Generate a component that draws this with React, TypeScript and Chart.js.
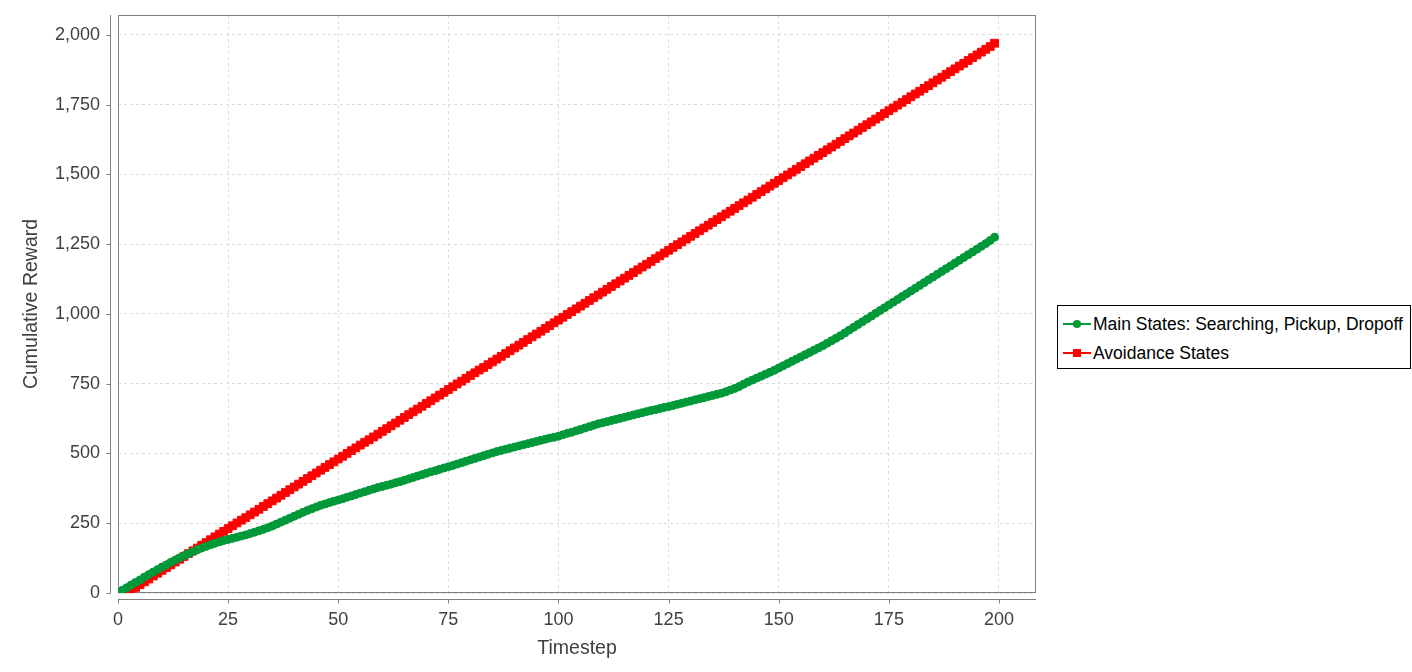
import React, { useEffect, useRef } from "react";
import { Chart, registerables } from "chart.js";

Chart.register(...registerables);

// ---- Data ----
const seriesMainLabel = "Main States: Searching, Pickup, Dropoff";
const seriesAvoidLabel = "Avoidance States";

// cumulative reward per timestep, t = 0..199
const mainStates: number[] = [
  0, 10, 19, 29, 38, 47, 57, 66, 75, 84,
  93, 101, 110, 118, 126, 134, 141, 148, 155, 161,
  167, 173, 178, 183, 188, 192, 196, 200, 204, 208,
  213, 218, 223, 228, 234, 240, 247, 254, 261, 268,
  275, 282, 289, 296, 302, 308, 314, 319, 324, 329,
  333, 338, 343, 348, 353, 358, 363, 368, 373, 378,
  382, 386, 390, 395, 399, 404, 409, 414, 419, 424,
  429, 434, 438, 443, 448, 452, 457, 462, 467, 472,
  477, 482, 487, 492, 497, 502, 507, 511, 515, 519,
  523, 527, 531, 535, 539, 543, 547, 551, 555, 558,
  562, 567, 572, 576, 581, 586, 591, 596, 601, 606,
  610, 614, 618, 622, 626, 630, 634, 638, 642, 646,
  650, 654, 657, 661, 665, 668, 672, 676, 680, 684,
  688, 692, 696, 700, 704, 708, 712, 716, 721, 727,
  733, 740, 748, 756, 763, 770, 777, 784, 791, 798,
  806, 814, 822, 830, 838, 846, 854, 862, 870, 878,
  886, 895, 904, 913, 922, 932, 942, 952, 962, 972,
  982, 992, 1002, 1012, 1022, 1032, 1042, 1052, 1062, 1072,
  1082, 1092, 1102, 1112, 1122, 1132, 1142, 1152, 1162, 1172,
  1182, 1192, 1202, 1212, 1222, 1232, 1242, 1252, 1263, 1275,
];

const avoidanceStates: number[] = [
  0, 0, 0, 10, 20, 30, 40, 50, 61, 71,
  81, 91, 101, 111, 121, 131, 141, 151, 161, 171,
  181, 191, 201, 211, 221, 231, 241, 251, 261, 270,
  280, 290, 300, 310, 320, 330, 340, 350, 360, 370,
  380, 390, 400, 410, 420, 430, 440, 450, 460, 470,
  480, 490, 500, 510, 520, 530, 540, 549, 559, 569,
  579, 589, 599, 609, 619, 629, 639, 649, 659, 669,
  679, 689, 699, 709, 719, 729, 739, 749, 759, 769,
  779, 789, 799, 808, 818, 828, 838, 848, 858, 868,
  878, 888, 898, 908, 918, 928, 938, 948, 958, 968,
  978, 988, 998, 1008, 1018, 1028, 1038, 1048, 1058, 1068,
  1078, 1088, 1098, 1108, 1118, 1128, 1138, 1148, 1158, 1168,
  1178, 1188, 1198, 1208, 1218, 1228, 1238, 1248, 1258, 1268,
  1278, 1288, 1298, 1308, 1318, 1328, 1338, 1348, 1358, 1368,
  1378, 1388, 1398, 1408, 1418, 1428, 1438, 1448, 1458, 1468,
  1478, 1488, 1498, 1508, 1518, 1528, 1538, 1548, 1558, 1568,
  1578, 1588, 1598, 1608, 1618, 1628, 1638, 1648, 1658, 1668,
  1678, 1688, 1698, 1708, 1718, 1728, 1738, 1748, 1758, 1768,
  1778, 1788, 1798, 1808, 1818, 1828, 1838, 1848, 1858, 1868,
  1878, 1888, 1898, 1908, 1918, 1928, 1938, 1948, 1958, 1970,
];

const xTitle = "Timestep";
const yTitle = "Cumulative Reward";
const xMin = 0;
const xMax = 208.4;
const xStep = 25;
const yMin = 0;
const yMax = 2071;
const yStep = 250;

const GREEN = "#00993a";
const RED = "#ff0000";
const FONT = "'Liberation Sans', Arial, Helvetica, sans-serif";

const jfreeAxes = {
  id: "jfreeAxes",
  beforeDatasetsDraw(chart: any) {
    const { ctx, chartArea: a } = chart;
    ctx.save();
    ctx.strokeStyle = "#808080";
    ctx.lineWidth = 1;
    ctx.strokeRect(a.left + 0.5, a.top + 0.5, a.right - a.left - 1, a.bottom - a.top - 1);
    ctx.restore();
  },
  afterDraw(chart: any) {
    const { ctx, chartArea: a, scales } = chart;
    const xs = scales.x;
    const ys = scales.y;
    ctx.save();
    ctx.strokeStyle = "#808080";
    ctx.lineWidth = 1;
    ctx.beginPath();
    const axY = Math.round(a.bottom) + 6.5;
    ctx.moveTo(a.left, axY);
    ctx.lineTo(a.right, axY);
    xs.ticks.forEach((t: any) => {
      const px = Math.round(xs.getPixelForValue(t.value)) + 0.5;
      ctx.moveTo(px, axY);
      ctx.lineTo(px, axY + 4);
    });
    const axX = Math.round(a.left) - 7.5;
    ctx.moveTo(axX, a.top);
    ctx.lineTo(axX, a.bottom);
    ys.ticks.forEach((t: any) => {
      const py = Math.round(ys.getPixelForValue(t.value)) + 0.5;
      ctx.moveTo(axX - 4, py);
      ctx.lineTo(axX, py);
    });
    ctx.stroke();
    ctx.restore();
  },
};

function LegendRow(props: { top: number; color: string; shape: "circle" | "square"; label: string }) {
  const { top, color, shape, label } = props;
  return (
    <div style={{ position: "absolute", left: 0, top: top - 11, height: 22, width: 352 }}>
      <div style={{ position: "absolute", left: 5, top: 10, width: 28, height: 2, background: color }} />
      <div
        style={{
          position: "absolute",
          left: 15,
          top: 7,
          width: 8,
          height: 8,
          background: color,
          borderRadius: shape === "circle" ? "50%" : 0,
        }}
      />
      <div
        style={{
          position: "absolute",
          left: 35,
          top: 0,
          height: 22,
          lineHeight: "22px",
          fontSize: 17.5,
          fontFamily: FONT,
          color: "#000",
          whiteSpace: "nowrap",
        }}
      >
        {label}
      </div>
    </div>
  );
}

export default function App() {
  const canvasRef = useRef<HTMLCanvasElement | null>(null);

  useEffect(() => {
    if (!canvasRef.current) return;
    const chart = new Chart(canvasRef.current, {
      type: "line",
      data: {
        datasets: [
          {
            label: seriesMainLabel,
            data: mainStates.map((v, i) => ({ x: i, y: v })),
            borderColor: GREEN,
            backgroundColor: GREEN,
            borderWidth: 2,
            pointStyle: "circle",
            pointRadius: 4,
            pointBorderWidth: 1,
            pointBorderColor: GREEN,
            pointBackgroundColor: GREEN,
            tension: 0,
            clip: 0,
          },
          {
            label: seriesAvoidLabel,
            data: avoidanceStates.map((v, i) => ({ x: i, y: v })),
            borderColor: RED,
            backgroundColor: RED,
            borderWidth: 2,
            pointStyle: "rect",
            pointRadius: 5.5,
            pointBorderWidth: 1,
            pointBorderColor: RED,
            pointBackgroundColor: RED,
            tension: 0,
            clip: 0,
          },
        ],
      },
      options: {
        responsive: false,
        animation: false,
        devicePixelRatio: 1,
        layout: { padding: { left: 0, top: 15, right: 376, bottom: 0 } },
        plugins: {
          legend: { display: false },
          tooltip: { enabled: false },
        },
        scales: {
          x: {
            type: "linear",
            min: xMin,
            max: xMax,
            afterFit: (scale: any) => {
              scale.height = 79;
              scale.paddingLeft = 0;
              scale.paddingRight = 0;
            },
            ticks: {
              stepSize: xStep,
              includeBounds: false,
              padding: 16,
              maxRotation: 0,
              color: "#404040",
              font: { family: FONT, size: 18 },
              callback: (v: any) => String(v),
            },
            grid: { color: "#dcdcdc", lineWidth: 1, drawTicks: false },
            border: { display: false, dash: [3, 3] },
            title: {
              display: true,
              text: xTitle,
              color: "#404040",
              font: { family: FONT, size: 19.5, lineHeight: 1.2 },
              padding: { top: 0, bottom: 12 },
            },
          },
          y: {
            type: "linear",
            min: yMin,
            max: yMax,
            afterFit: (scale: any) => {
              scale.width = 118;
              scale.paddingTop = 0;
              scale.paddingBottom = 0;
            },
            ticks: {
              stepSize: yStep,
              includeBounds: false,
              padding: 18,
              color: "#404040",
              font: { family: FONT, size: 18 },
              callback: (v: any) => Number(v).toLocaleString("en-US"),
            },
            grid: { color: "#dcdcdc", lineWidth: 1, drawTicks: false },
            border: { display: false, dash: [3, 3] },
            title: {
              display: true,
              text: yTitle,
              color: "#404040",
              font: { family: FONT, size: 19.5, lineHeight: 1.2 },
              padding: { top: 20, bottom: 0 },
            },
          },
        },
      },
      plugins: [jfreeAxes],
    } as any);
    return () => chart.destroy();
  }, []);

  return (
    <div style={{ position: "fixed", left: 0, top: 0, width: 1412, height: 672, background: "#fff" }}>
      <canvas ref={canvasRef} width={1412} height={672} style={{ position: "absolute", left: 0, top: 0 }} />
      <div
        style={{
          position: "absolute",
          left: 1057,
          top: 305,
          width: 352,
          height: 62,
          border: "1px solid #000",
          background: "#fff",
        }}
      >
        <LegendRow top={17.5} color={GREEN} shape="circle" label={seriesMainLabel} />
        <LegendRow top={47} color={RED} shape="square" label={seriesAvoidLabel} />
      </div>
    </div>
  );
}
